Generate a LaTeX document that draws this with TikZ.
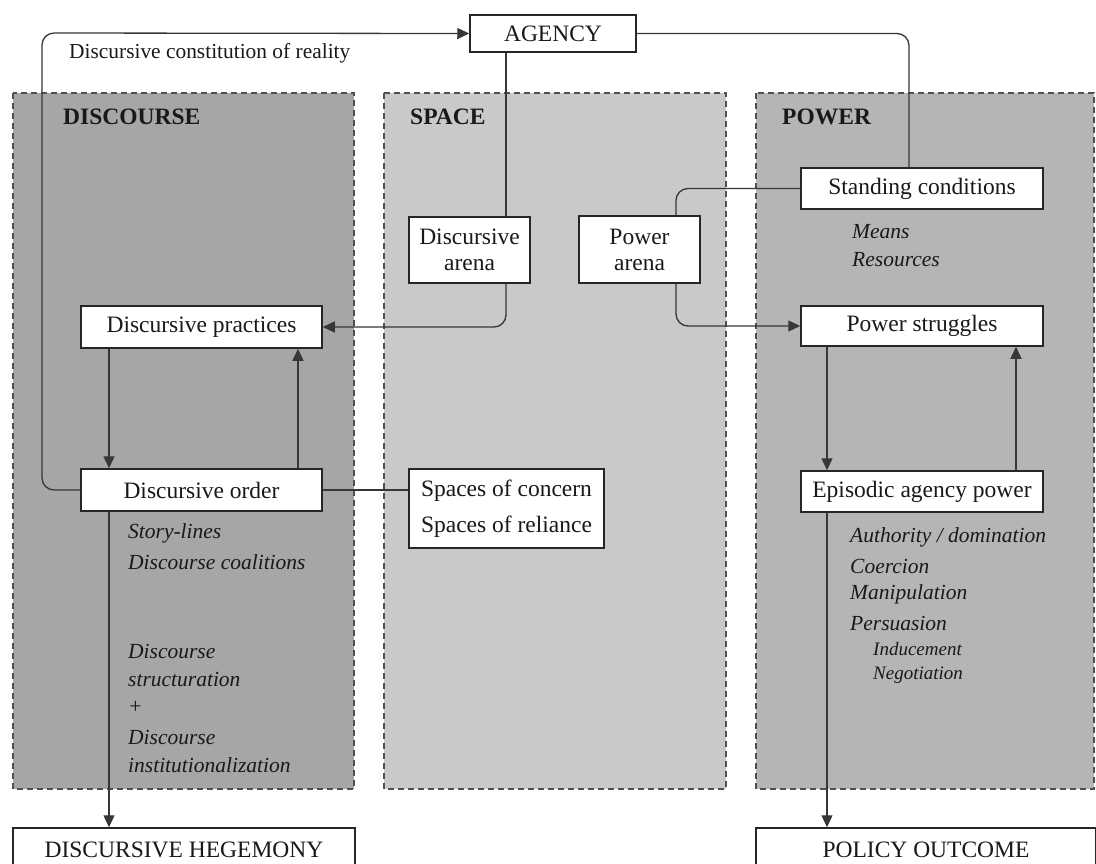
\documentclass[tikz,border=0pt]{standalone}
\usepackage{fontspec}
\setmainfont{Liberation Serif}
\usetikzlibrary{arrows.meta}
\definecolor{discfill}{RGB}{166,166,166}
\definecolor{spacefill}{RGB}{201,201,201}
\definecolor{powerfill}{RGB}{181,181,181}
\definecolor{linecol}{RGB}{55,55,55}
\definecolor{dashcol}{RGB}{80,80,80}
\definecolor{txtcol}{RGB}{25,25,25}
\newcommand{\txtbox}{\fontsize{23.5}{26}\selectfont}
\newcommand{\txtreg}{\fontsize{21.4}{26}\selectfont}
\newcommand{\txtit}{\fontsize{21.5}{26}\selectfont\itshape}
\newcommand{\txtsmit}{\fontsize{19}{23}\selectfont\itshape}
\newcommand{\txthdr}{\fontsize{23.5}{26}\selectfont\bfseries}
\begin{document}
\begin{tikzpicture}[x=1pt,y=-1pt,
  panel/.style={draw=dashcol, line width=1.3pt, dash pattern=on 6pt off 4pt},
  box/.style={draw=black!85, line width=1.5pt, fill=white, inner sep=0pt, font=\txtbox, text=txtcol},
  hdr/.style={anchor=west, inner sep=0pt, font=\txthdr, text=txtcol},
  note/.style={anchor=west, inner sep=0pt, font=\txtit, text=txtcol},
  smnote/.style={anchor=west, inner sep=0pt, font=\txtsmit, text=txtcol},
  conn/.style={draw=linecol, line width=1.3pt, rounded corners=12pt},
  arr/.style={conn, -{Triangle[length=12pt,width=11pt]}}
]
\useasboundingbox (0,0) rectangle (1096,863);
\clip (0,0) rectangle (1096,863);
\fill[white] (0,0) rectangle (1096,863);

% panels
\draw[panel, fill=discfill] (13,93) rectangle (354,789);
\draw[panel, fill=spacefill] (384,93) rectangle (726,789);
\draw[panel, fill=powerfill] (756,93) rectangle (1094,789);

\node[hdr] (hdisc) at (63,117) {DISCOURSE};
\node[hdr] (hspace) at (410,117) {SPACE};
\node[hdr] (hpower) at (782,117) {POWER};

% boxes
\node[box, minimum width=166, minimum height=37] (agency) at (553,33.5) {AGENCY};
\node[box, minimum width=241, minimum height=42] (dprac) at (201.5,327) {Discursive practices};
\node[box, minimum width=241, minimum height=42] (dorder) at (201.5,490) {Discursive order};
\node[box, minimum width=121, minimum height=66, align=center] (darena) at (469.5,250) {Discursive\\arena};
\node[box, minimum width=121, minimum height=67, align=center] (parena) at (639.5,249.5) {Power\\arena};
\node[box, minimum width=242, minimum height=41] (standing) at (922,188.5) {Standing conditions};
\node[box, minimum width=242, minimum height=40] (pstrug) at (922,326) {Power struggles};
\node[box, minimum width=242, minimum height=41] (episodic) at (922,491.5) {Episodic agency power};
\node[box, minimum width=195, minimum height=79, align=left, font=\fontsize{23.5}{36}\selectfont] (spaces) at (506.5,508.5) {Spaces of concern\\Spaces of reliance};
\node[box, minimum width=342, minimum height=44] (hegemony) at (184,850) {DISCURSIVE HEGEMONY};
\node[box, minimum width=340, minimum height=44] (policy) at (926,850) {POLICY OUTCOME};

% annotations
\node[anchor=west, inner sep=0pt, font=\txtreg, text=txtcol] (dcr) at (69,53) {Discursive constitution of reality};
\node[note] (n1) at (128,533) {Story-lines};
\node[note] (n2) at (128,562) {Discourse coalitions};
\node[note] (n3) at (128,651) {Discourse};
\node[note] (n4) at (128,679) {structuration};
\node[note] (n5) at (128,707) {+};
\node[note] (n6) at (128,737) {Discourse};
\node[note] (n7) at (128,765) {institutionalization};
\node[note] (m1) at (852,232) {Means};
\node[note] (m2) at (852,260) {Resources};
\node[note] (p1) at (850,537) {Authority / domination};
\node[note] (p2) at (850,566) {Coercion};
\node[note] (p3) at (850,594) {Manipulation};
\node[note] (p4) at (850,623) {Persuasion};
\node[smnote] (p5) at (873,649) {Inducement};
\node[smnote] (p6) at (873,675) {Negotiation};

% connectors
\coordinate (lc) at (42,33);
\draw[arr] (dorder.west) -| (lc) -- (agency.west);
\draw[conn] (agency.east) -| ([xshift=-13]standing.north);
\draw[conn] ([xshift=-47]agency.south) -- ([xshift=-47]agency.south |- darena.north);
\draw[arr] ([xshift=36.5]darena.south) |- (dprac.east);
\draw[conn] (standing.west) -| ([xshift=36.5]parena.north);
\draw[arr] ([xshift=36.5]parena.south) |- (pstrug.west);
\draw[arr] ([xshift=-92.5]dprac.south) -- ([xshift=-92.5]dorder.north);
\draw[arr] ([xshift=96.5]dorder.north) -- ([xshift=96.5]dprac.south);
\draw[conn] (dorder.east) -- (dorder.east -| spaces.west);
\draw[arr] ([xshift=-92.5]dorder.south) -- ([xshift=-92.5]dorder.south |- hegemony.north);
\draw[arr] ([xshift=-95]pstrug.south) -- ([xshift=-95]episodic.north);
\draw[arr] ([xshift=94]episodic.north) -- ([xshift=94]pstrug.south);
\draw[arr] ([xshift=-95]episodic.south) -- ([xshift=-95]episodic.south |- policy.north);
\end{tikzpicture}
\end{document}
